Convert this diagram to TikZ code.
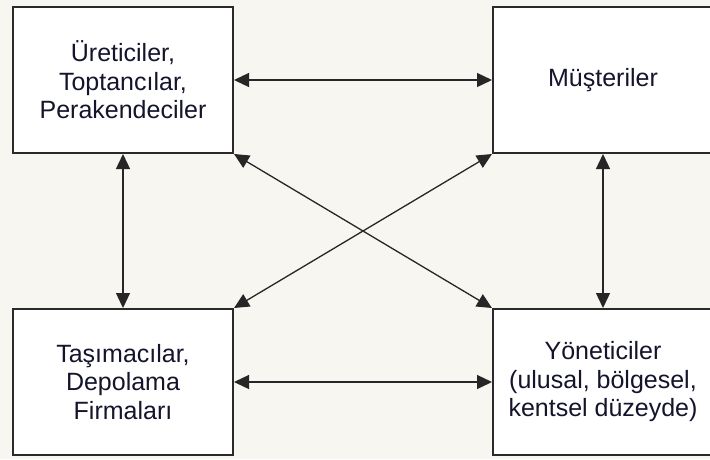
\documentclass[tikz,border=0pt]{standalone}
\usepackage{fontspec}
\setmainfont{Liberation Sans}
\usetikzlibrary{arrows.meta}
\definecolor{bgcol}{HTML}{F8F6F0}
\definecolor{edgecol}{HTML}{2A2A2A}
\definecolor{txtcol}{HTML}{14142C}
\tikzset{
  box/.style={draw=edgecol, line width=2pt, fill=white, rectangle, inner sep=0pt,
    minimum width=220pt, minimum height=146pt, align=center, text=txtcol,
    font=\fontsize{25}{28.5}\selectfont},
  link/.style={draw=black!85, line width=1.3pt,
    {Triangle[length=15pt,width=14pt]}-{Triangle[length=15pt,width=14pt]}}
}
\begin{document}
\begin{tikzpicture}[x=1pt,y=-1pt]
\useasboundingbox (0,0) rectangle (710,459);
\fill[bgcol] (0,0) rectangle (710,459);
\node[box] (tl) at (123,80) {Üreticiler,\\Toptancılar,\\Perakendeciler};
\node[box] (tr) at (603,80) {Müşteriler};
\node[box] (bl) at (123,382) {Taşımacılar,\\Depolama\\Firmaları};
\node[box] (br) at (603,382) {Yöneticiler\\(ulusal, bölgesel,\\kentsel düzeyde)};
\draw[link] (tl.east) -- (tr.west);
\draw[link] (bl.east) -- (br.west);
\draw[link] (tl.south) -- (bl.north);
\draw[link] (tr.south) -- (br.north);
\draw[link] (tl.south east) -- (br.north west);
\draw[link] (tr.south west) -- (bl.north east);
\end{tikzpicture}
\end{document}
